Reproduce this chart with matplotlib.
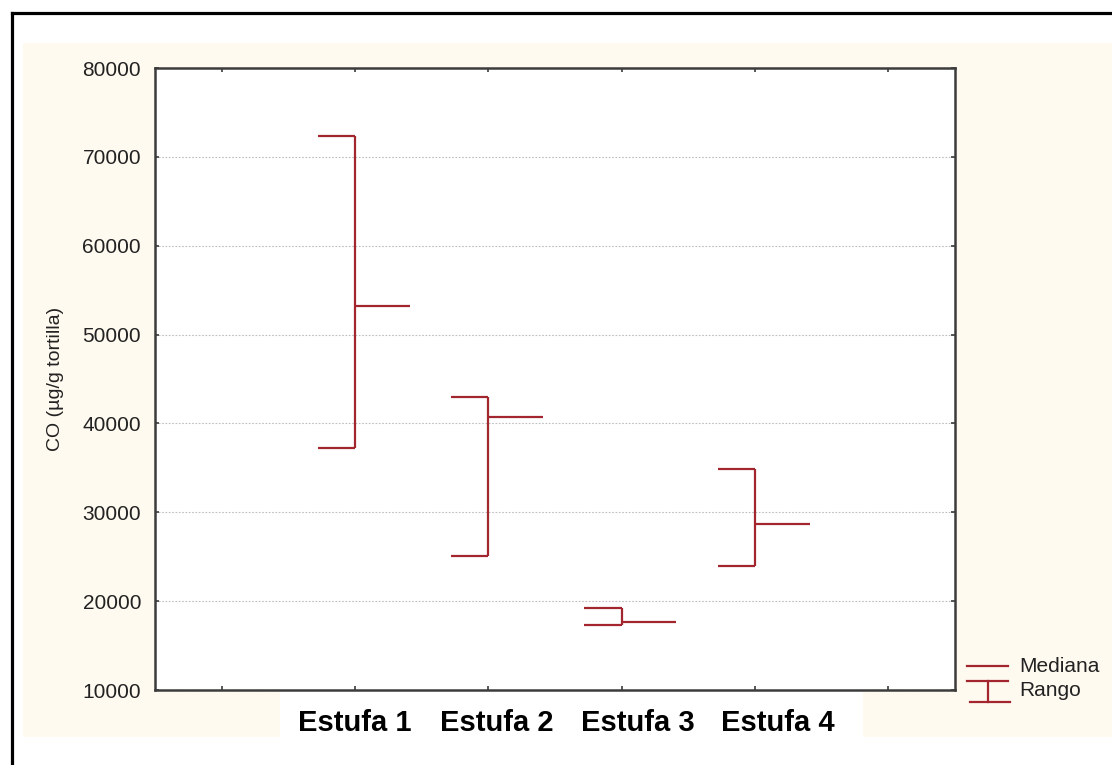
import numpy as np
import matplotlib
matplotlib.use("Agg")
import matplotlib.pyplot as plt
from matplotlib.lines import Line2D
from matplotlib.patches import Rectangle

plt.rcParams["font.family"] = ["Liberation Sans", "DejaVu Sans"]

# data (CO, ug/g tortilla)
categories = ["Estufa 1", "Estufa 2", "Estufa 3", "Estufa 4"]
positions = [2, 3, 4, 5]
rng_max = [72350, 42980, 19230, 34870]
rng_min = [37240, 25080, 17320, 23960]
medians = [53220, 40730, 17660, 28680]
yticks = [10000, 20000, 30000, 40000, 50000, 60000, 70000, 80000]

RED = "#A3262E"
CREAM = "#FFFAF0"
FRAME = "#3C3C3C"


def main():
    fig = plt.figure(figsize=(11.12, 7.65), dpi=100)
    fig.patch.set_facecolor("white")

    # cream panel behind the chart, white box behind the category names
    fig.patches.append(Rectangle((0.0207, 0.0366), 0.98, 0.9072, transform=fig.transFigure,
                                 facecolor=CREAM, edgecolor="none", zorder=-2))
    fig.patches.append(Rectangle((0.2518, 0.0366), 0.5242, 0.0606, transform=fig.transFigure,
                                 facecolor="white", edgecolor="none", zorder=-1))

    # black frame (only top and left visible)
    fig.lines.append(Line2D([0.0104, 0.0104], [0.0, 0.983], transform=fig.transFigure,
                            color="black", lw=2.3, solid_capstyle="projecting"))
    fig.lines.append(Line2D([0.0104, 1.0], [0.983, 0.983], transform=fig.transFigure,
                            color="black", lw=2.3, solid_capstyle="projecting"))

    ax = fig.add_axes([0.1394, 0.098, 0.7194, 0.8131])
    ax.set_zorder(1)
    ax.set_facecolor("white")

    x = np.array(positions, dtype=float)
    cap = 0.28
    med_len = 0.41
    ax.vlines(x, rng_min, rng_max, color=RED, lw=1.6, zorder=3)
    ax.hlines(rng_max, x - cap, x, color=RED, lw=1.6, zorder=3)
    ax.hlines(rng_min, x - cap, x, color=RED, lw=1.6, zorder=3)
    ax.hlines(medians, x, x + med_len, color=RED, lw=1.6, zorder=3)

    ax.set_xlim(0.5, 6.5)
    ax.set_ylim(10000, 80000)
    ax.set_xticks([1, 2, 3, 4, 5, 6])
    ax.set_xticklabels([])
    ax.set_yticks(yticks)
    ax.set_yticklabels([str(v) for v in yticks], fontsize=15, color="#222222")

    ax.yaxis.grid(True, linestyle=(0, (1.5, 1.5)), color="#BDBDBD", lw=0.8)
    ax.set_axisbelow(True)

    ax.tick_params(axis="both", direction="in", length=3, width=1.2, color=FRAME,
                   top=True, right=True)
    ax.tick_params(axis="y", pad=10)
    for s in ax.spines.values():
        s.set_color(FRAME)
        s.set_linewidth(1.8)

    ax.set_ylabel("CO (\u00b5g/g tortilla)", fontsize=14, color="#222222", labelpad=13)

    # category names under the axis
    label_x = [355, 497, 638, 778]
    for lx, name in zip(label_x, categories):
        fig.text(lx / 1112, 1 - 723 / 765, name, fontsize=21, fontweight="bold",
                 ha="center", va="center", color="black")

    # legend
    fig.lines.append(Line2D([967 / 1112, 1008 / 1112], [1 - 666 / 765] * 2,
                            transform=fig.transFigure, color=RED, lw=1.6))
    fig.lines.append(Line2D([967 / 1112, 1008 / 1112], [1 - 681 / 765] * 2,
                            transform=fig.transFigure, color=RED, lw=1.6))
    fig.lines.append(Line2D([988 / 1112] * 2, [1 - 681 / 765, 1 - 702 / 765],
                            transform=fig.transFigure, color=RED, lw=1.6))
    fig.lines.append(Line2D([970 / 1112, 1010 / 1112], [1 - 702 / 765] * 2,
                            transform=fig.transFigure, color=RED, lw=1.6))
    fig.text(1019 / 1112, 1 - 666 / 765, "Mediana", fontsize=15, va="center", ha="left",
             color="#222222")
    fig.text(1019 / 1112, 1 - 691 / 765, "Rango", fontsize=15, va="center", ha="left",
             color="#222222")

    fig.savefig("out.png", dpi=100, facecolor="white")
    plt.close(fig)


if __name__ == "__main__":
    main()
